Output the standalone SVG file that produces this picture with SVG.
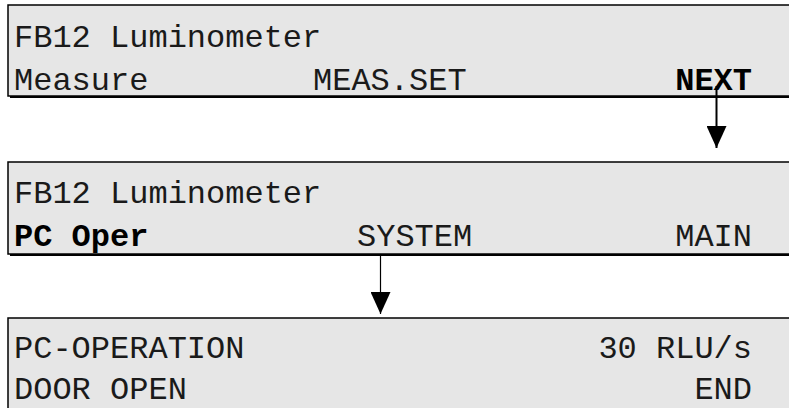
<svg xmlns="http://www.w3.org/2000/svg" width="789" height="408" viewBox="0 0 789 408">
<style>
.sh{fill:#000}
.bx{fill:#e6e6e6;stroke:#000;stroke-width:1.5}
.t{font-family:"Liberation Mono","Courier New",monospace;font-size:32px;fill:#1a1a1a}
.b{font-weight:bold;fill:#000}
.e{text-anchor:end}
.c{stroke:#000;fill:none}
</style>
<defs>
<marker id="ah" viewBox="0 0 22 20" refX="22" refY="10" markerWidth="22" markerHeight="20" markerUnits="userSpaceOnUse" orient="auto">
<path d="M0,0 L22,10 L0,20 Z" fill="#000"/>
</marker>
</defs>
<rect width="789" height="408" fill="#fff"/>
<g id="screen1">
<rect class="sh" x="10" y="7" width="800" height="91"/>
<rect class="bx" x="8" y="5" width="800" height="91"/>
<text class="t" x="14" y="47">FB12 Luminometer</text>
<text class="t" x="14" y="90">Measure</text>
<text class="t" x="313" y="90">MEAS.SET</text>
<text class="t b e" x="752" y="90">NEXT</text>
</g>
<g id="screen2">
<rect class="sh" x="10" y="164" width="800" height="92"/>
<rect class="bx" x="8" y="162" width="800" height="92"/>
<text class="t" x="14" y="203">FB12 Luminometer</text>
<text class="t b" x="14" y="246">PC Oper</text>
<text class="t" x="357" y="246">SYSTEM</text>
<text class="t e" x="752" y="246">MAIN</text>
</g>
<g id="screen3">
<rect class="sh" x="10" y="320" width="800" height="100"/>
<rect class="bx" x="8" y="318" width="800" height="100"/>
<text class="t" x="14" y="358">PC-OPERATION</text>
<text class="t e" x="752" y="358">30 RLU/s</text>
<text class="t" x="14" y="399">DOOR OPEN</text>
<text class="t e" x="752" y="399">END</text>
</g>
<g id="connectors">
<line class="c" x1="716.5" y1="86" x2="716.5" y2="148" stroke-width="2" marker-end="url(#ah)"/>
<line class="c" x1="380.5" y1="254" x2="380.5" y2="314" stroke-width="1.2" marker-end="url(#ah)"/>
</g>
</svg>
